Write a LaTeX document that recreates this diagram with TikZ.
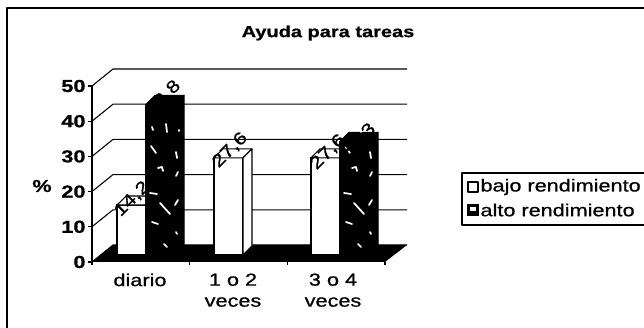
\documentclass[tikz,border=0pt]{standalone}
\usepackage{fontspec}
\setmainfont{Liberation Sans}[FakeStretch=1.25, FakeBold=0.8]
\usetikzlibrary{calc}

\newcommand{\columna}[3]{% left x, value, fill
  \pgfmathsetmacro{\ytop}{255-3.52*#2}
  \filldraw[fill=#3] (#1,255) rectangle (#1+29,\ytop);
  \filldraw[fill=#3] (#1,\ytop) -- ++(9,-9) -- ++(29,0) -- ++(-9,9) -- cycle;
  \filldraw[fill=#3] (#1+29,255) -- ++(9,-9) -- (#1+38,\ytop-9) -- (#1+29,\ytop) -- cycle;
}

\begin{document}
\begin{tikzpicture}[x=0.75pt, y=-0.75pt, line join=round, line width=0.8pt,
    every node/.style={inner sep=0pt, font=\fontsize{13}{15.75}\selectfont},
    speck/.style={white, line width=1.3pt, line cap=round}]
  \useasboundingbox (0,0) rectangle (644,328);
  % frame and title
  \draw[line width=1pt] (7,328) -- (7,8) -- (644,8);
  \node[font=\fontsize{12}{14}\selectfont\bfseries] (T) at (328,33) {Ayuda para tareas};
  % value axis and back wall
  \foreach \v in {0,10,...,50} {
    \coordinate (F\v) at (92,{262-3.52*\v});
    \draw (F\v) -- ++(-4,0);
    \draw (F\v) -- ++(21,-17) -- ++(294,0);
    \node[anchor=east, font=\fontsize{13}{14}\selectfont\bfseries] (L\v) at ($(F\v)+(-6,0)$) {\v};
  }
  \draw (F0) -- (F50);
  \node[font=\fontsize{13}{14}\selectfont\bfseries] (P) at (42,186) {\%};
  % floor
  \fill (92,262) -- (385,262) -- (407,245) -- (113,245) -- cycle;
  \foreach \x in {92,189.7,287.3,385} {
    \draw (\x,262) -- ++(0,3);
  }
  % columns
  \foreach \x/\v/\c in {117/14.2/white, 146/42.8/black, 214/27.6/white,
                        311/27.6/white, 340/32.3/black} {
    \columna{\x}{\v}{\c}
  }
  % white specks on the dark columns
  \foreach \x in {146,340} {
    \draw[speck] (\x+6,127) -- ++(1,3);
    \draw[speck] (\x+20,124) -- ++(1,8);
    \draw[speck] (\x+33,130) -- ++(0,1);
    \draw[speck] (\x+5,146) -- ++(5,7);
    \draw[speck] (\x+30,152) -- ++(1,6);
    \draw[speck] (\x+12,168) -- ++(4,-1) -- ++(1,4);
    \draw[speck] (\x+32,172) -- ++(-2,4);
    \draw[speck] (\x+4,193) -- ++(7,1);
    \draw[speck] (\x+14,203) -- ++(10,11);
    \draw[speck] (\x+32,200) -- ++(-3,5);
    \draw[speck] (\x+6,222) -- ++(6,2);
    \draw[speck] (\x+30,232) -- ++(1,2);
    \draw[speck] (\x+18,244) -- ++(3,3);
  }
  % value labels
  \node[rotate=45] (V1) at (132,199) {14,2};
  \node[rotate=45] (V2) at (163,98) {42,8};
  \node[rotate=45] (V3) at (230,150) {27,6};
  \node[rotate=45] (V4) at (328,152) {27,6};
  \node[rotate=45] (V5) at (358,141) {32,3};
  % category labels
  \node[anchor=north] (C1) at (140,273) {diario};
  \node[anchor=north, align=center] (C2) at (233,273) {1 o 2\\veces};
  \node[anchor=north, align=center] (C3) at (333,273) {3 o 4\\veces};
  % legend
  \draw (462,173) rectangle (650,225);
  \draw[line width=1pt] (468,182) rectangle (478,192);
  \fill (467,204) rectangle (479,216);
  \fill[white] (470,207) rectangle (476,211);
  \node[anchor=west] (B) at (480,187) {bajo rendimiento};
  \node[anchor=west] (A) at (480,210) {alto rendimiento};
\end{tikzpicture}
\end{document}
